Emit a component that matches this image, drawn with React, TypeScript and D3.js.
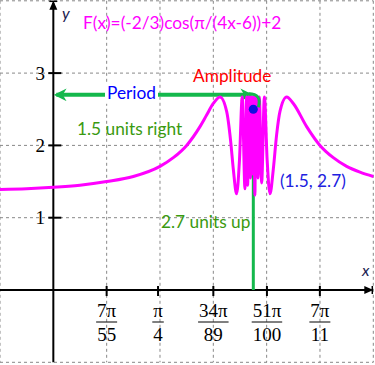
import * as d3 from "d3";

const W = 375;
const H = 365;

// points [x, F(x)]
const curvePoints: [number, number][] = [
  [-0.4, 1.39], [-0.2, 1.4], [0, 1.42], [0.2, 1.45], [0.4, 1.5], [0.6, 1.57],
  [0.8, 1.71], [0.9, 1.83], [1.0, 2.0], [1.1, 2.26], [1.15, 2.42], [1.2, 2.58],
  [1.25, 2.67], [1.3, 2.47], [1.33, 2.06], [1.35, 1.67], [1.375, 1.33],
  [1.396, 1.79], [1.417, 2.67], [1.4375, 1.4], [1.45, 2.67], [1.458, 1.45],
  [1.464, 2.67], [1.469, 1.62], [1.474, 2.67], [1.479, 1.55], [1.484, 2.67],
  [1.489, 1.75], [1.494, 2.67], [1.499, 1.6], [1.504, 2.67], [1.512, 1.31],
  [1.518, 2.67], [1.524, 1.7], [1.529, 2.67], [1.535, 1.55], [1.545, 2.67],
  [1.5625, 1.48], [1.583, 2.67], [1.604, 1.79], [1.625, 1.33], [1.65, 1.67],
  [1.675, 2.15], [1.7, 2.47], [1.75, 2.67], [1.8, 2.58], [1.9, 2.26],
  [2.0, 2.0], [2.1, 1.83], [2.2, 1.71], [2.3, 1.63], [2.4, 1.57],
];

const xTickNums = ["7π", "π", "34π", "51π", "7π"];
const xTickDens = ["55", "4", "89", "100", "11"];
const xTickValues = [(7 * Math.PI) / 55, Math.PI / 4, (34 * Math.PI) / 89, (51 * Math.PI) / 100, (7 * Math.PI) / 11];
const yTickValues = [1, 2, 3];
const gridX = [-0.4, 0.4, 0.8, 1.2, 1.6, 2.0, 2.4];
const gridY = [-1, 1, 2, 3, 4];

const shiftPoint: [number, number] = [1.5, 2.5];
const periodY = 2.7;
const periodEnd = 1.48;

const x = d3.scaleLinear().domain([-0.4, 2.4]).range([0, 373.3]);
const y = d3.scaleLinear().domain([-1, 4]).range([362.3, 0.8]);

const GREEN = "#14b84c";
const TEXT_GREEN = "#3a9a10";
const LABEL_FONT = "Lato, 'Open Sans', sans-serif";
const SERIF = "'Liberation Serif', 'DejaVu Serif', serif";
const LABEL_SIZE = 17.3;

export default function App() {
  const line = d3
    .line<[number, number]>()
    .x((d) => x(d[0]))
    .y((d) => y(d[1]))
    .curve(d3.curveMonotoneX);

  const x0 = x(0);
  const y0 = y(0);
  const py = y(periodY);

  return (
    <svg
      width={W}
      height={H}
      style={{ position: "absolute", left: 0, top: 0, background: "#fff" }}
    >
      <defs>
        <marker id="ah" viewBox="0 0 10 10" refX="8" refY="5" markerWidth="3.2" markerHeight="3.2" orient="auto-start-reverse">
          <path d="M0,0 L10,5 L0,10 L3,5 Z" fill={GREEN} />
        </marker>
      </defs>

      {/* grid */}
      {gridX.map((g, i) => (
        <line key={"gx" + i} x1={x(g)} x2={x(g)} y1={y(4)} y2={y(-1)} stroke="#888" strokeDasharray="3,3" strokeWidth={1} />
      ))}
      {gridY.map((g, i) => (
        <line key={"gy" + i} x1={x(-0.4)} x2={x(2.4)} y1={y(g)} y2={y(g)} stroke="#888" strokeDasharray="3,3" strokeWidth={1} />
      ))}

      {/* axes */}
      <line x1={x(-0.4)} x2={x(2.4) - 2} y1={y0} y2={y0} stroke="#000" strokeWidth={2} />
      <path d={`M${x(2.4)},${y0} l-9,-4 l0,8 Z`} fill="#000" />
      <line x1={x(2.4) - 1} x2={x(2.4) - 1} y1={y0 - 4} y2={y0 + 4} stroke="#000" strokeWidth={1.5} />
      <line x1={x0} x2={x0} y1={y(-1)} y2={y(4) + 2} stroke="#000" strokeWidth={2} />
      <path d={`M${x0},${y(4)} l-4,9 l8,0 Z`} fill="#000" />
      <line x1={x0 - 4} x2={x0 + 4} y1={y(4) + 0.5} y2={y(4) + 0.5} stroke="#000" strokeWidth={1.5} />

      {/* x ticks, labels as fractions */}
      {xTickValues.map((v, i) => {
        const half = Math.max(xTickNums[i].length, xTickDens[i].length) * 4.75 + 1;
        return (
          <g key={"xt" + i} transform={`translate(${x(v)},0)`}>
            <line y1={y0 - 4} y2={y0 + 6} stroke="#000" strokeWidth={2} />
            <text y={317} textAnchor="middle" fontFamily={SERIF} fontSize={19}>{xTickNums[i]}</text>
            <line x1={-half} x2={half} y1={322} y2={322} stroke="#000" strokeWidth={1} />
            <text y={341} textAnchor="middle" fontFamily={SERIF} fontSize={19}>{xTickDens[i]}</text>
          </g>
        );
      })}

      {/* y ticks */}
      {yTickValues.map((v) => (
        <g key={"yt" + v}>
          <line x1={x0 - 5} x2={x0 + 8} y1={y(v)} y2={y(v)} stroke="#000" strokeWidth={2} />
          <text x={45} y={y(v) + 6.5} textAnchor="end" fontFamily={SERIF} fontSize={19}>{v}</text>
        </g>
      ))}

      <text x={362} y={276} fontFamily={LABEL_FONT} fontStyle="italic" fontSize={16} fill="#1a1a50">x</text>
      <text x={62} y={19} fontFamily={LABEL_FONT} fontStyle="italic" fontSize={16} fill="#1a1a50">y</text>

      {/* vertical shift line */}
      <line x1={x(shiftPoint[0])} x2={x(shiftPoint[0])} y1={y0} y2={y(shiftPoint[1])} stroke={GREEN} strokeWidth={3} />

      {/* period arrow */}
      <line x1={x0 + 3} x2={x(periodEnd)} y1={py} y2={py} stroke={GREEN} strokeWidth={4} markerStart="url(#ah)" markerEnd="url(#ah)" />
      <rect x={105} y={py - 11} width={53} height={20} fill="#fff" />
      <text x={107} y={py + 4} fontFamily={LABEL_FONT} fontSize={LABEL_SIZE} fill="#0000ff">Period</text>

      {/* curve */}
      <path d={line(curvePoints) ?? ""} fill="none" stroke="#ff00ff" strokeWidth={3} strokeLinejoin="round" />

      {/* amplitude arrow */}
      <path d={`M${x(periodEnd) - 2},${py - 1} Q${x(1.5) + 9},${py - 1} ${x(1.5) + 5},${y(shiftPoint[1]) - 2}`} fill="none" stroke={GREEN} strokeWidth={3} />

      <circle cx={x(shiftPoint[0])} cy={y(shiftPoint[1])} r={4.5} fill="#1010e0" />

      <text x={83} y={29} fontFamily={LABEL_FONT} fontSize={LABEL_SIZE} fill="#ff00ff">F(x)=(-2/3)cos(π/(4x-6))+2</text>
      <text x={193} y={82} fontFamily={LABEL_FONT} fontSize={LABEL_SIZE} fill="#ff0000">Amplitude</text>
      <text x={77} y={135} fontFamily={LABEL_FONT} fontSize={LABEL_SIZE} fill={TEXT_GREEN}>1.5 units right</text>
      <text x={280} y={187} fontFamily={LABEL_FONT} fontSize={LABEL_SIZE} fill="#2020e0">(1.5, 2.7)</text>
      <text x={161} y={228} fontFamily={LABEL_FONT} fontSize={LABEL_SIZE} fill={TEXT_GREEN}>2.7 units up</text>
    </svg>
  );
}
